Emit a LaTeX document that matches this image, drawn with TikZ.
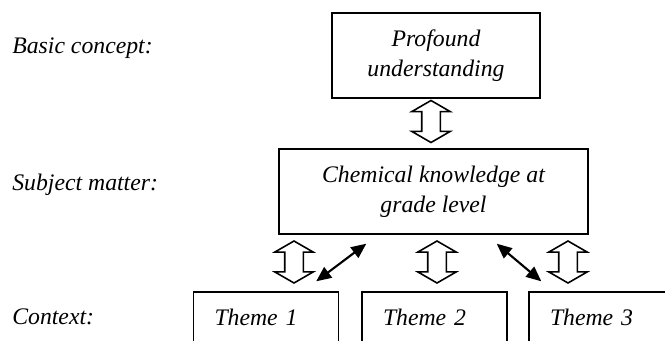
\documentclass[tikz,border=0pt]{standalone}
\usepackage{fontspec}
\setmainfont{Liberation Serif}
\usepackage{tikz}
\usetikzlibrary{shapes,arrows,positioning,calc,arrows.meta}

\newcommand{\labelfont}{\fontsize{13.5}{17}\selectfont\itshape}

\tikzset{
  box/.style={draw, line width=0.8pt, align=center, inner sep=0pt, font=\labelfont},
  theme/.style={draw, line width=0.8pt, align=left, text width=2.06cm, inner xsep=0.42cm, minimum height=1.0cm, font=\labelfont},
  level/.style={anchor=base west, inner sep=0pt, font=\labelfont},
  hollow/.style={draw, line width=0.9pt, double arrow, rotate=90, inner xsep=0pt, inner ysep=0.17cm, minimum height=0.84cm, double arrow head extend=0.2cm, double arrow tip angle=120},
  link/.style={{Triangle[length=0.3cm,width=0.26cm]}-{Triangle[length=0.3cm,width=0.26cm]}, line width=1.2pt}
}

\begin{document}
\begin{tikzpicture}
    \useasboundingbox (0,0) rectangle (13.3,6.8);
    \clip (0,0) rectangle (13.3,6.8);

    % Levels
    \node[level] (basic) at (0.24,5.73) {Basic concept:};
    \node[level] (subject) at (0.24,2.99) {Subject matter:};
    \node[level] (context) at (0.24,0.32) {Context:};

    % Concept
    \node[box, minimum width=4.16cm, minimum height=1.70cm] (top) at (8.72,5.69) {Profound\\understanding};

    % Knowledge
    \node[box, minimum width=6.18cm, minimum height=1.70cm] (mid) at (8.67,2.97) {Chemical knowledge at\\grade level};

    % Themes
    \node[theme] (t1) at (5.32,0.46) {Theme 1};
    \node[theme] (t2) at (8.69,0.46) {Theme 2};
    \node[theme] (t3) at (12.03,0.46) {Theme 3};

    % Hollow arrows
    \node[hollow] (h0) at (8.62,4.37) {};
    \node[hollow] (h1) at (5.88,1.56) {};
    \node[hollow] (h2) at (8.74,1.56) {};
    \node[hollow] (h3) at (11.36,1.56) {};

    % Cross links
    \draw[link] ($(mid.south west)+(1.76,-0.18)$) -- ($(t1.north east)+(-0.46,0.2)$);
    \draw[link] ($(mid.south east)+(-1.84,-0.18)$) -- ($(t3.north west)+(0.26,0.2)$);
\end{tikzpicture}
\end{document}
